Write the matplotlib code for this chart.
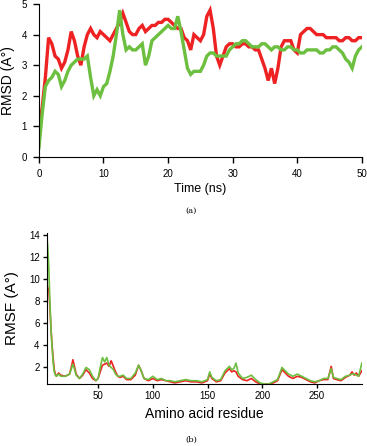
import numpy as np
import matplotlib
matplotlib.use('Agg')
import matplotlib.pyplot as plt

plt.rcParams['font.family'] = ['Liberation Sans', 'DejaVu Sans']

# RMSD vs time, read every 0.5 ns
time_ns = np.arange(0, 50.5, 0.5)
rmsd_red = [1.0, 1.6, 2.6, 3.9, 3.7, 3.3, 3.2, 2.9, 3.1, 3.5,
            4.1, 3.8, 3.3, 3.0, 3.6, 4.0, 4.2, 4.0, 3.9, 4.1,
            4.0, 3.9, 3.8, 4.0, 4.2, 4.4, 4.7, 4.4, 4.1, 4.0,
            4.0, 4.2, 4.3, 4.1, 4.2, 4.3, 4.3, 4.4, 4.4, 4.5,
            4.5, 4.4, 4.3, 4.2, 4.2, 3.9, 3.8, 3.5, 4.0, 3.9,
            3.8, 4.0, 4.6, 4.8, 4.2, 3.3, 3.0, 3.3, 3.6, 3.7,
            3.7, 3.6, 3.6, 3.7, 3.7, 3.6, 3.6, 3.5, 3.5, 3.2,
            2.9, 2.5, 2.9, 2.4, 2.9, 3.6, 3.8, 3.8, 3.8, 3.5,
            3.4, 4.0, 4.1, 4.2, 4.2, 4.1, 4.0, 4.0, 4.0, 3.9,
            3.9, 3.9, 3.9, 3.8, 3.8, 3.9, 3.9, 3.8, 3.8, 3.9,
            3.9]
rmsd_green = [0.3, 1.4, 2.3, 2.5, 2.6, 2.8, 2.7, 2.3, 2.5, 2.8,
              3.0, 3.1, 3.2, 3.2, 3.2, 3.3, 2.6, 2.0, 2.2, 2.0,
              2.3, 2.4, 2.8, 3.3, 4.0, 4.8, 4.0, 3.5, 3.6, 3.5,
              3.5, 3.6, 3.7, 3.0, 3.3, 3.8, 3.9, 4.0, 4.1, 4.2,
              4.3, 4.2, 4.2, 4.6, 4.1, 3.5, 2.9, 2.7, 2.8, 2.8,
              2.8, 3.0, 3.3, 3.4, 3.4, 3.3, 3.3, 3.3, 3.3, 3.5,
              3.6, 3.7, 3.7, 3.8, 3.8, 3.7, 3.6, 3.6, 3.6, 3.7,
              3.7, 3.6, 3.5, 3.6, 3.6, 3.5, 3.5, 3.6, 3.6, 3.5,
              3.5, 3.4, 3.4, 3.5, 3.5, 3.5, 3.5, 3.4, 3.4, 3.5,
              3.5, 3.6, 3.6, 3.5, 3.4, 3.2, 3.1, 2.9, 3.3, 3.5,
              3.6]

# RMSF per residue
residue = [3, 4, 5, 6, 7, 8, 9, 10, 11, 12, 14, 16, 20, 24, 26, 27, 28, 30,
           33, 36, 39, 42, 45, 48, 50, 52, 54, 56, 58, 60, 62, 64, 66, 68,
           70, 73, 76, 80, 84, 87, 89, 92, 96, 100, 104, 108, 112, 116, 120,
           125, 130, 135, 140, 145, 150, 152, 154, 158, 162, 166, 170, 172,
           174, 176, 178, 182, 186, 190, 194, 198, 202, 206, 210, 214, 218,
           220, 224, 228, 232, 236, 240, 244, 248, 252, 256, 260, 263, 265,
           268, 272, 276, 280, 282, 284, 286, 288, 291]
rmsf_red = [9.9, 9.2, 9.1, 7.5, 5.5, 4.0, 2.8, 1.8, 1.4, 1.2, 1.5, 1.3, 1.2,
            1.4, 2.2, 2.7, 2.3, 1.4, 1.0, 1.3, 1.8, 1.5, 1.0, 0.8, 1.0, 1.6,
            2.2, 2.3, 2.4, 2.1, 2.6, 2.1, 1.6, 1.2, 1.1, 1.2, 0.9, 0.9, 1.3,
            2.2, 1.8, 1.0, 0.8, 1.0, 0.8, 0.9, 0.8, 0.7, 0.6, 0.7, 0.8, 0.7,
            0.7, 0.6, 0.8, 1.4, 1.0, 0.7, 0.8, 1.5, 1.9, 1.6, 1.7, 1.6, 1.2,
            0.9, 0.8, 1.0, 0.7, 0.5, 0.5, 0.5, 0.6, 0.8, 1.8, 1.6, 1.2, 1.0,
            1.2, 1.1, 0.9, 0.7, 0.6, 0.8, 0.9, 0.9, 2.1, 1.0, 0.9, 0.8, 1.1,
            1.3, 1.6, 1.3, 1.5, 1.2, 1.7]
rmsf_green = [14.2, 13.0, 11.0, 8.0, 5.5, 3.8, 2.4, 1.6, 1.3, 1.2, 1.4, 1.2,
              1.2, 1.4, 2.0, 2.3, 2.0, 1.3, 1.0, 1.4, 2.0, 1.8, 1.2, 0.8,
              1.0, 2.0, 2.9, 2.5, 2.9, 2.2, 2.0, 1.8, 1.4, 1.2, 1.2, 1.3,
              1.0, 1.0, 1.5, 2.2, 1.8, 1.0, 0.9, 1.2, 0.9, 1.0, 0.8, 0.8,
              0.7, 0.8, 0.9, 0.8, 0.8, 0.7, 0.9, 1.6, 1.1, 0.8, 0.9, 1.7,
              2.1, 1.8, 1.9, 2.4, 1.5, 1.0, 1.1, 1.3, 0.9, 0.6, 0.5, 0.5,
              0.7, 0.9, 2.0, 1.8, 1.4, 1.2, 1.4, 1.2, 1.0, 0.8, 0.7, 0.8,
              1.0, 1.0, 1.9, 1.1, 1.0, 0.9, 1.2, 1.3, 1.4, 1.4, 1.3, 1.2,
              2.4]

red = '#ee2222'
green = '#6cbf3f'

fig = plt.figure(figsize=(3.67, 4.46), dpi=100)

# (a) RMSD
ax1 = fig.add_axes([0.106, 0.648, 0.880, 0.343])
ax1.plot(time_ns, rmsd_red, color=red, lw=2.4, solid_joinstyle='miter')
ax1.plot(time_ns, rmsd_green, color=green, lw=2.4, solid_joinstyle='miter')
ax1.set_xlim(0, 50)
ax1.set_ylim(0, 5)
ax1.set_xticks(range(0, 51, 10))
ax1.set_yticks(range(0, 6))
ax1.set_xlabel('Time (ns)', fontsize=9, labelpad=3)
ax1.set_ylabel('RMSD (A°)', fontsize=10, labelpad=5)
ax1.tick_params(labelsize=7, length=4.5, width=1, pad=4)

# (b) RMSF
ax2 = fig.add_axes([0.127, 0.139, 0.859, 0.339])
ax2.plot(residue, rmsf_red, color=red, lw=1.2)
ax2.plot(residue, rmsf_green, color=green, lw=1.2)
ax2.set_xlim(3, 291)
ax2.set_ylim(0.5, 14.2)
ax2.set_xticks(range(50, 251, 50))
ax2.set_yticks(range(2, 15, 2))
ax2.set_xlabel('Amino acid residue', fontsize=10, labelpad=4)
ax2.set_ylabel('RMSF (A°)', fontsize=11, labelpad=7)
ax2.tick_params(labelsize=7, length=3, width=1, pad=2)

for ax in (ax1, ax2):
    ax.spines['top'].set_visible(False)
    ax.spines['right'].set_visible(False)

fig.text(0.52, 0.527, '(a)', ha='center', va='center', fontsize=6, family='serif')
fig.text(0.52, 0.013, '(b)', ha='center', va='center', fontsize=6, family='serif')

fig.savefig('out.png', dpi=100)
